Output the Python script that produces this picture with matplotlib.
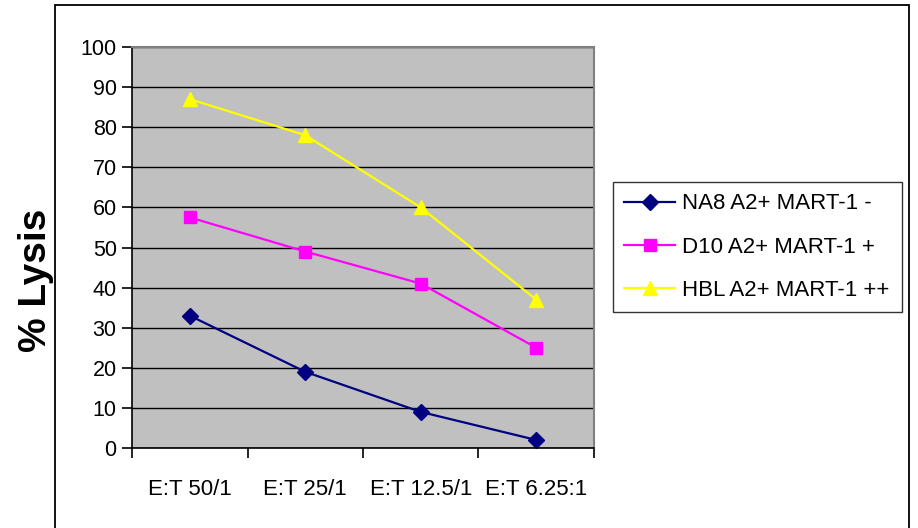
import matplotlib
matplotlib.use("Agg")
import matplotlib.pyplot as plt
from matplotlib.patches import Rectangle

plt.rcParams['font.family'] = ['Liberation Sans', 'DejaVu Sans']

categories = ["E:T 50/1", "E:T 25/1", "E:T 12.5/1", "E:T 6.25:1"]
na8 = [33, 19, 9, 2]
d10 = [57.5, 49, 41, 25]
hbl = [87, 78, 60, 37]
series_names = ["NA8 A2+ MART-1 -", "D10 A2+ MART-1 +", "HBL A2+ MART-1 ++"]
yticks = list(range(0, 101, 10))

W, H = 918, 528
fig = plt.figure(figsize=(W / 100, H / 100), dpi=100)

# outer chart frame (its bottom edge runs past the lower border of the image)
fig.patches.append(Rectangle((55 / W, -10 / H), (909 - 55) / W, (H + 5) / H,
                             transform=fig.transFigure, fill=False,
                             edgecolor='black', linewidth=1.3))

ax = fig.add_axes([132 / W, 1 - 448 / H, (594 - 132) / W, (448 - 47) / H])
ax.set_facecolor('#C0C0C0')

x = list(range(len(categories)))
ax.plot(x, na8, color='#000080', marker='D', markersize=8, linewidth=1.6,
        label=series_names[0])
ax.plot(x, d10, color='#FF00FF', marker='s', markersize=8, linewidth=1.6,
        label=series_names[1])
ax.plot(x, hbl, color='#FFFF00', marker='^', markersize=10, linewidth=1.6,
        label=series_names[2])

ax.set_xlim(-0.5, len(categories) - 0.5)
ax.set_ylim(0, 100)
ax.set_yticks(yticks)
ax.set_yticklabels([str(v) for v in yticks], fontsize=15.5)
ax.yaxis.grid(True, color='black', linewidth=1.0)
ax.set_axisbelow(True)

ax.set_xticks(x)
ax.set_xticklabels(categories, fontsize=16)
ax.set_xticks([i - 0.5 for i in range(len(categories) + 1)], minor=True)
ax.tick_params(axis='x', which='major', length=0, pad=22)
ax.tick_params(axis='x', which='minor', length=7, width=1.2, direction='out')
ax.tick_params(axis='y', length=7, width=1.2, direction='out', pad=4)

for side in ('top', 'right'):
    ax.spines[side].set_color('#808080')
    ax.spines[side].set_linewidth(1.5)
for side in ('left', 'bottom'):
    ax.spines[side].set_color('black')
    ax.spines[side].set_linewidth(1.2)

fig.text(36 / W, 1 - 280 / H, "% Lysis", rotation=90, fontsize=28,
         fontweight='bold', ha='center', va='center')

leg = ax.legend(loc='center', bbox_to_anchor=(613 / W, 1 - 310 / H,
                (902 - 613) / W, (310 - 184) / H),
                bbox_transform=fig.transFigure, mode='expand',
                fontsize=16, frameon=True, fancybox=False, borderaxespad=0,
                handlelength=2.3, handletextpad=0.3, labelspacing=1.0,
                borderpad=0.5)
leg.get_frame().set_edgecolor('black')
leg.get_frame().set_linewidth(1.0)

fig.savefig("out.png", dpi=100)
